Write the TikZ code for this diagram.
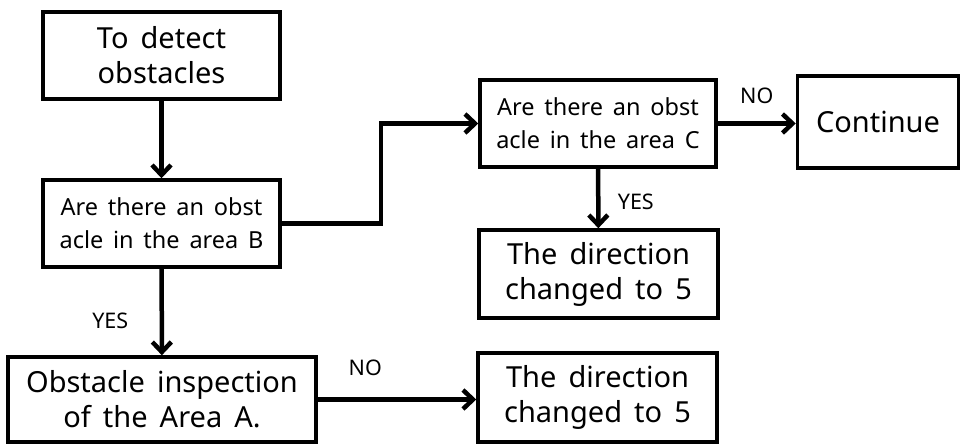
\documentclass[tikz,border=0pt]{standalone}
\usepackage{fontspec}
\setmainfont{Noto Sans}[WordSpace=1.6]
\usetikzlibrary{arrows.meta,positioning}

\begin{document}
\begin{tikzpicture}[x=1pt,y=-1pt,
    >={Straight Barb[length=10pt,width=19pt]},
    every node/.append style={align=center},
    box/.style={draw, line width=3.5pt, inner sep=0pt},
    bigtxt/.style={font=\fontsize{29}{35}\selectfont},
    smalltxt/.style={font=\fontsize{23.5}{33}\selectfont},
    flow/.style={->, line width=4.5pt},
    lbl/.style={font=\fontsize{21.5}{24}\selectfont}]
    \useasboundingbox (0,0) rectangle (961,444);

    \node [box,bigtxt,minimum width=237pt,minimum height=87pt] (det) at (161.5,55.5) {To detect\\obstacles};
    \node [box,smalltxt,minimum width=237pt,minimum height=87pt] (areaB) at (161.5,223.5) {Are there an obst\\acle in the area B};
    \node [box,bigtxt,minimum width=308pt,minimum height=85pt] (areaA) at (162,399.5) {Obstacle inspection\\of the Area A.};
    \node [box,bigtxt,minimum width=239pt,minimum height=89pt] (dirA) at (597.5,397.5) {The direction\\changed to 5};
    \node [box,smalltxt,minimum width=236pt,minimum height=87pt] (areaC) at (598,123.5) {Are there an obst\\acle in the area C};
    \node [box,bigtxt,minimum width=161pt,minimum height=92pt] (cont) at (878,122) {Continue};
    \node [box,bigtxt,minimum width=239pt,minimum height=88pt] (dirC) at (598.5,274) {The direction\\changed to 5};

    \draw [flow] (det) -- (areaB);
    \draw [flow] (areaB) -- node[lbl,pos=0.6,left=28pt] {YES} (areaA);
    \draw [flow] (areaB.east) -- ++(99,0) |- (areaC.west);
    \draw [flow] (areaC.east) -- node[lbl,above=14pt] {NO} (areaC.east -| cont.west);
    \draw [flow] (areaC) -- node[lbl,pos=0.55,right=14pt] {YES} (dirC);
    \draw [flow] (areaA.east) -- node[lbl,above=18pt,pos=0.3] {NO} (areaA.east -| dirA.west);
\end{tikzpicture}
\end{document}
